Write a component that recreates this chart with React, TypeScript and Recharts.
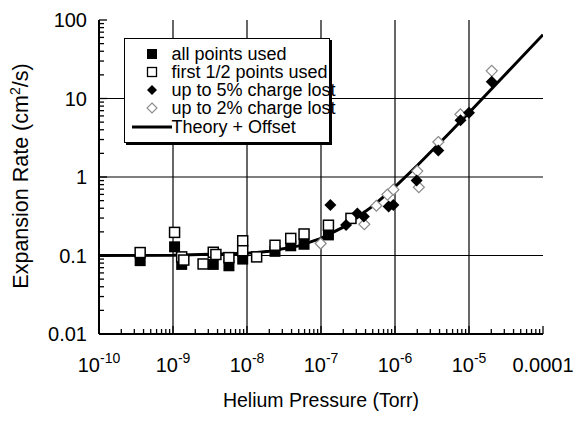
import React from "react";
import { ComposedChart, Scatter, Line, XAxis, YAxis, ReferenceLine, Legend } from "recharts";

// ---- Data ----
const allPointsUsed = [
  { x: 3.6e-10, y: 0.086 },
  { x: 1.05e-9, y: 0.129 },
  { x: 1.31e-9, y: 0.077 },
  { x: 3.5e-9, y: 0.077 },
  { x: 5.7e-9, y: 0.074 },
  { x: 8.75e-9, y: 0.09 },
  { x: 2.39e-8, y: 0.113 },
  { x: 3.9e-8, y: 0.133 },
  { x: 5.9e-8, y: 0.139 },
  { x: 1.26e-7, y: 0.183 },
];

const firstHalfPointsUsed = [
  { x: 3.6e-10, y: 0.109 },
  { x: 1.05e-9, y: 0.197 },
  { x: 1.31e-9, y: 0.096 },
  { x: 1.4e-9, y: 0.0875 },
  { x: 2.55e-9, y: 0.078 },
  { x: 3.5e-9, y: 0.11 },
  { x: 3.8e-9, y: 0.103 },
  { x: 5.7e-9, y: 0.094 },
  { x: 8.75e-9, y: 0.154 },
  { x: 8.75e-9, y: 0.115 },
  { x: 1.35e-8, y: 0.096 },
  { x: 2.39e-8, y: 0.135 },
  { x: 3.9e-8, y: 0.165 },
  { x: 5.9e-8, y: 0.188 },
  { x: 1.26e-7, y: 0.243 },
  { x: 2.54e-7, y: 0.297 },
];

const upTo5PctLost = [
  { x: 1.34e-7, y: 0.44 },
  { x: 2.18e-7, y: 0.245 },
  { x: 3.1e-7, y: 0.344 },
  { x: 3.8e-7, y: 0.315 },
  { x: 8.2e-7, y: 0.42 },
  { x: 9.5e-7, y: 0.44 },
  { x: 1.96e-6, y: 0.9 },
  { x: 3.85e-6, y: 2.18 },
  { x: 7.67e-6, y: 5.27 },
  { x: 1.0e-5, y: 6.6 },
  { x: 2.03e-5, y: 16.3 },
];

const upTo2PctLost = [
  { x: 9.9e-8, y: 0.142 },
  { x: 3.85e-7, y: 0.25 },
  { x: 5.6e-7, y: 0.43 },
  { x: 7.9e-7, y: 0.597 },
  { x: 9.5e-7, y: 0.69 },
  { x: 2.0e-6, y: 1.19 },
  { x: 2.1e-6, y: 0.74 },
  { x: 3.85e-6, y: 2.79 },
  { x: 7.67e-6, y: 6.29 },
  { x: 2.03e-5, y: 22.5 },
];

const theoryOffset = [
  { x: 1e-10, y: 0.1 },
  { x: 1e-9, y: 0.1006 },
  { x: 1e-8, y: 0.1065 },
  { x: 2e-8, y: 0.113 },
  { x: 5e-8, y: 0.1325 },
  { x: 1e-7, y: 0.165 },
  { x: 2e-7, y: 0.23 },
  { x: 5e-7, y: 0.425 },
  { x: 1e-6, y: 0.75 },
  { x: 2e-6, y: 1.4 },
  { x: 5e-6, y: 3.35 },
  { x: 1e-5, y: 6.6 },
  { x: 3e-5, y: 19.6 },
  { x: 1e-4, y: 65 },
];

const seriesNames = [
  "all points used",
  "first 1/2 points used",
  "up to 5% charge lost",
  "up to 2% charge lost",
  "Theory + Offset",
];

const xTickValues = [1e-10, 1e-9, 1e-8, 1e-7, 1e-6, 1e-5, 1e-4];
const xTickLabels = ["10^-10", "10^-9", "10^-8", "10^-7", "10^-6", "10^-5", "0.0001"];
const yTickValues = [0.01, 0.1, 1, 10, 100];
const yTickLabels = ["0.01", "0.1", "1", "10", "100"];
const xGridValues = [1e-9, 1e-8, 1e-7, 1e-6, 1e-5];
const yGridValues = [0.1, 1, 10];

const xTitle = "Helium Pressure (Torr)";

// ---- helpers ----
const FONT = "'Liberation Sans', Arial, Helvetica, sans-serif";
const minorMult = [2, 3, 4, 5, 6, 7, 8, 9];
const withMinors = (majors: number[]) => {
  const out: number[] = [];
  majors.forEach((m, i) => {
    out.push(m);
    if (i < majors.length - 1) minorMult.forEach((k) => out.push(k * m));
  });
  return out;
};
const xAllTicks = withMinors(xTickValues);
const yAllTicks = withMinors(yTickValues);
const majorIndex = (v: number, majors: number[]) => majors.findIndex((m) => Math.abs(v / m - 1) < 1e-6);

const MAJOR = 8;
const MINOR = 5;
const BLACK = { fill: "#000" };

const BottomTick = (p: any) => {
  const { x, y, payload } = p;
  const idx = majorIndex(payload.value, xTickValues);
  const len = idx >= 0 ? MAJOR : MINOR;
  let label: any = null;
  if (idx >= 0) {
    const s = xTickLabels[idx];
    if (s.includes("^")) {
      const [base, exp] = s.split("^");
      label = (
        <text x={x} y={y + 38} textAnchor="middle" fontSize={20} fontFamily={FONT} fill="#000" style={BLACK}>
          <tspan>{base}</tspan>
          <tspan dy={-9} fontSize={14}>{exp}</tspan>
        </text>
      );
    } else {
      label = (
        <text x={x} y={y + 38} textAnchor="middle" fontSize={20} fontFamily={FONT} fill="#000" style={BLACK}>
          {s}
        </text>
      );
    }
  }
  return (
    <g>
      <line x1={x} x2={x} y1={y} y2={y - len} stroke="#000" strokeWidth={1.3} />
      {label}
    </g>
  );
};

const TopTick = (p: any) => {
  const { x, y, payload } = p;
  const idx = majorIndex(payload.value, xTickValues);
  const len = idx >= 0 ? MAJOR : MINOR;
  return <line x1={x} x2={x} y1={y} y2={y + len} stroke="#000" strokeWidth={1.3} />;
};

const LeftTick = (p: any) => {
  const { x, y, payload } = p;
  const idx = majorIndex(payload.value, yTickValues);
  const len = idx >= 0 ? MAJOR : MINOR;
  return (
    <g>
      <line x1={x} x2={x + len} y1={y} y2={y} stroke="#000" strokeWidth={1.3} />
      {idx >= 0 && (
        <text x={x - 12} y={y} dy="0.36em" textAnchor="end" fontSize={20} fontFamily={FONT} fill="#000" style={BLACK}>
          {yTickLabels[idx]}
        </text>
      )}
    </g>
  );
};

const RightTick = (p: any) => {
  const { x, y, payload } = p;
  const idx = majorIndex(payload.value, yTickValues);
  const len = idx >= 0 ? MAJOR : MINOR;
  return <line x1={x} x2={x - len} y1={y} y2={y} stroke="#000" strokeWidth={1.3} />;
};

const FilledSquare = (p: any) => (
  <rect x={p.cx - 5.5} y={p.cy - 5.5} width={11} height={11} fill="#000" />
);
const OpenSquare = (p: any) => (
  <rect x={p.cx - 5} y={p.cy - 5} width={10} height={10} fill="#fff" stroke="#000" strokeWidth={1.5} />
);
const diamondPath = (cx: number, cy: number, r: number) =>
  `M${cx},${cy - r}L${cx + r},${cy}L${cx},${cy + r}L${cx - r},${cy}Z`;
const FilledDiamond = (p: any) => <path d={diamondPath(p.cx, p.cy, 6)} fill="#000" />;
const OpenDiamond = (p: any) => (
  <path d={diamondPath(p.cx, p.cy, 5.5)} fill="#fff" stroke="#8a8a8a" strokeWidth={1.2} />
);

const legendMarker = (i: number) => {
  const cx = 28;
  const cy = 10;
  switch (i) {
    case 0:
      return <rect x={cx - 5} y={cy - 5} width={10} height={10} fill="#000" />;
    case 1:
      return <rect x={cx - 4.5} y={cy - 4.5} width={9} height={9} fill="#fff" stroke="#000" strokeWidth={1.3} />;
    case 2:
      return <path d={diamondPath(cx, cy, 5)} fill="#000" />;
    case 3:
      return <path d={diamondPath(cx, cy, 5)} fill="#fff" stroke="#8a8a8a" strokeWidth={1.1} />;
    default:
      return <line x1={8} x2={48} y1={cy} y2={cy} stroke="#000" strokeWidth={3} />;
  }
};

const LegendBox = () => (
  <div
    style={{
      width: 206,
      height: 105,
      boxSizing: "border-box",
      border: "1.5px solid #000",
      boxShadow: "2px 2px 0 #000",
      background: "#fff",
      fontFamily: FONT,
      fontSize: 18,
      position: "relative",
      color: "#000",
    }}
  >
    {seriesNames.map((name, i) => (
      <div
        key={name}
        style={{
          position: "absolute",
          left: -1.5,
          top: 4.5 + i * 18.3,
          height: 20,
          display: "flex",
          alignItems: "center",
          whiteSpace: "nowrap",
        }}
      >
        <svg width={48} height={20} style={{ display: "block" }}>
          {legendMarker(i)}
        </svg>
        <span style={{ lineHeight: "20px" }}>{name}</span>
      </div>
    ))}
  </div>
);

export default function App() {
  return (
    <div style={{ position: "absolute", left: 0, top: 0, width: 578, height: 426, background: "#fff" }}>
      <ComposedChart width={578} height={426} margin={{ top: 20, right: 35, bottom: 0, left: 0 }}>
        <XAxis
          xAxisId="b"
          dataKey="x"
          type="number"
          scale="log"
          domain={[1e-10, 1e-4]}
          allowDataOverflow
          ticks={xAllTicks}
          interval={0}
          orientation="bottom"
          height={92}
          tickSize={0}
          tickMargin={0}
          tickLine={false}
          axisLine={{ stroke: "#000", strokeWidth: 2 }}
          tick={(p: any) => <BottomTick {...p} />}
          label={{
            content: () => (
              <text x={321} y={407} textAnchor="middle" fontSize={19.5} fontFamily={FONT} fill="#000" style={BLACK}>
                {xTitle}
              </text>
            ),
          }}
        />
        <XAxis
          xAxisId="t"
          dataKey="x"
          type="number"
          scale="log"
          domain={[1e-10, 1e-4]}
          allowDataOverflow
          ticks={xAllTicks}
          interval={0}
          orientation="top"
          height={0}
          tickSize={0}
          tickMargin={0}
          tickLine={false}
          axisLine={{ stroke: "#000", strokeWidth: 2 }}
          tick={(p: any) => <TopTick {...p} />}
        />
        <YAxis
          yAxisId="l"
          dataKey="y"
          type="number"
          scale="log"
          domain={[0.01, 100]}
          allowDataOverflow
          ticks={yAllTicks}
          interval={0}
          orientation="left"
          width={99}
          tickSize={0}
          tickMargin={0}
          tickLine={false}
          axisLine={{ stroke: "#000", strokeWidth: 2 }}
          tick={(p: any) => <LeftTick {...p} />}
          label={{
            content: () => (
              <text
                x={28}
                y={176}
                transform="rotate(-90, 28, 176)"
                textAnchor="middle"
                fontSize={21.5}
                fontFamily={FONT}
                fill="#000"
                style={BLACK}
              >
                <tspan>Expansion Rate (cm</tspan>
                <tspan dy={-8} fontSize={14}>2</tspan>
                <tspan dy={8}>/s)</tspan>
              </text>
            ),
          }}
        />
        <YAxis
          yAxisId="r"
          dataKey="y"
          type="number"
          scale="log"
          domain={[0.01, 100]}
          allowDataOverflow
          ticks={yAllTicks}
          interval={0}
          orientation="right"
          width={0}
          tickSize={0}
          tickMargin={0}
          tickLine={false}
          axisLine={{ stroke: "#000", strokeWidth: 2 }}
          tick={(p: any) => <RightTick {...p} />}
        />
        {xGridValues.map((v) => (
          <ReferenceLine key={"gx" + v} x={v} xAxisId="b" yAxisId="l" stroke="#000" strokeWidth={1.2} />
        ))}
        {yGridValues.map((v) => (
          <ReferenceLine key={"gy" + v} y={v} xAxisId="b" yAxisId="l" stroke="#000" strokeWidth={1.2} />
        ))}
        <Line
          xAxisId="b"
          yAxisId="l"
          data={theoryOffset}
          dataKey="y"
          type="linear"
          stroke="#000"
          strokeWidth={3}
          dot={false}
          isAnimationActive={false}
          name={seriesNames[4]}
        />
        <Scatter xAxisId="b" yAxisId="l" data={allPointsUsed} shape={FilledSquare} isAnimationActive={false} name={seriesNames[0]} />
        <Scatter xAxisId="b" yAxisId="l" data={firstHalfPointsUsed} shape={OpenSquare} isAnimationActive={false} name={seriesNames[1]} />
        <Scatter xAxisId="b" yAxisId="l" data={upTo2PctLost} shape={OpenDiamond} isAnimationActive={false} name={seriesNames[3]} />
        <Scatter xAxisId="b" yAxisId="l" data={upTo5PctLost} shape={FilledDiamond} isAnimationActive={false} name={seriesNames[2]} />
        <Legend
          layout="horizontal"
          verticalAlign="middle"
          align="center"
          wrapperStyle={{ left: 124, top: 38, width: 206, height: 105 }}
          content={() => <LegendBox />}
        />
      </ComposedChart>
    </div>
  );
}
